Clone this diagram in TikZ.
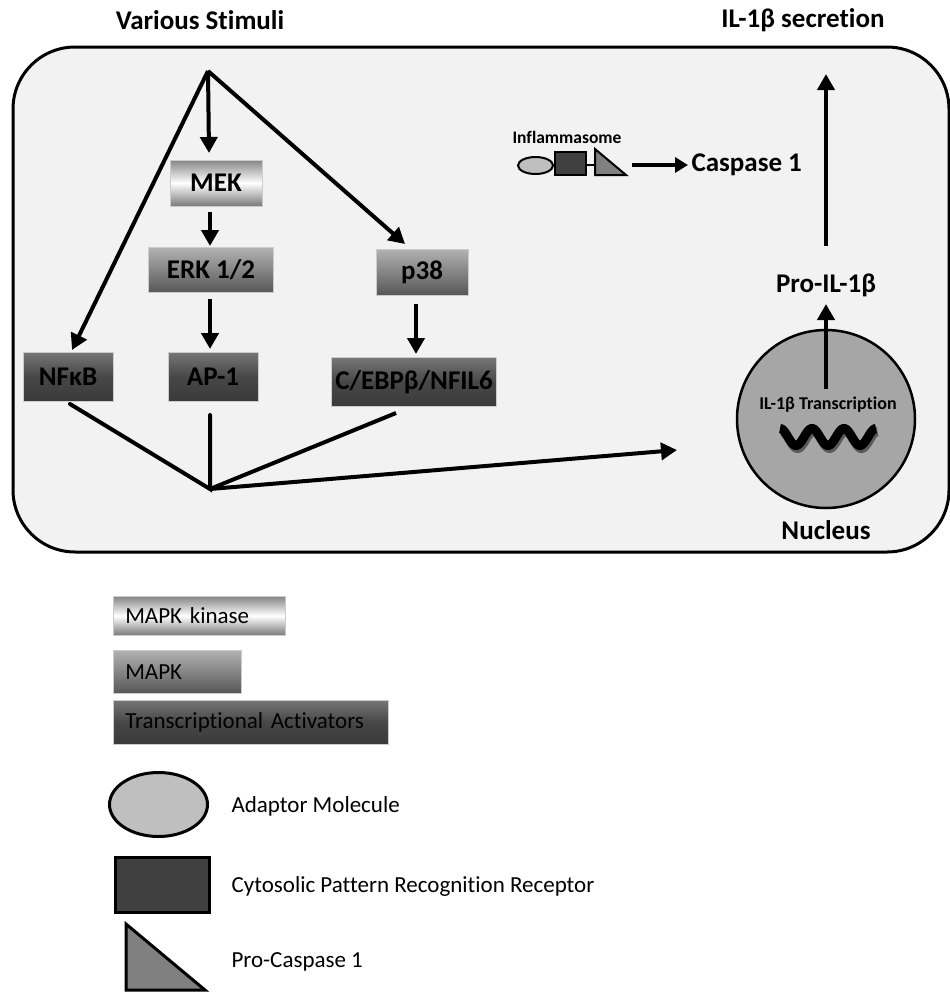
\documentclass[tikz,border=0pt]{standalone}
\usepackage{fontspec}
\setmainfont{Carlito}[Ligatures=NoCommon]
\usetikzlibrary{arrows.meta,calc}
\definecolor{cellbg}{HTML}{F2F2F2}
\definecolor{kinA}{HTML}{858585}
\definecolor{kinB}{HTML}{7A7A7A}
\definecolor{mapA}{HTML}{B2B2B2}
\definecolor{mapB}{HTML}{575757}
\definecolor{trA}{HTML}{767676}
\definecolor{trM}{HTML}{474747}
\definecolor{trB}{HTML}{3A3A3A}
\definecolor{adapt}{HTML}{BFBFBF}
\definecolor{recep}{HTML}{404040}
\definecolor{procas}{HTML}{808080}
\definecolor{nuc}{HTML}{A6A6A6}
\tikzset{
  arr/.style={line width=4pt,-{Triangle[length=16pt,width=17pt]}},
  ln/.style={line width=4pt},
  lbl/.style={font=\bfseries\fontsize{27}{30}\selectfont},
  kinase/.style={draw=gray!40,line width=0.6pt,top color=kinA,bottom color=kinB,middle color=white,lbl},
  mapk/.style={draw=gray!40,line width=0.6pt,top color=mapA,bottom color=mapB,lbl},
  tract/.style={draw=gray!40,line width=0.6pt,top color=trA,bottom color=trB,middle color=trM,lbl},
  legtxt/.style={font=\fontsize{23}{26}\selectfont},
  legbox/.style={legtxt,inner xsep=12pt,align=left,anchor=north west},
  shp/.style={draw=black,line width=3pt}
}
\begin{document}
\begin{tikzpicture}[x=1pt,y=-1pt]
\useasboundingbox (0,0) rectangle (950,994);
% cell
\draw[line width=3pt,fill=cellbg,rounded corners=62pt] (13,47) rectangle (949,552);
% titles
\node[lbl] (stim) at (200,20) {Various Stimuli};
\node[lbl] (secr) at (803,20) {IL-1β secretion};
% boxes
\node[kinase,minimum width=92pt,minimum height=46pt] (MEK) at (216,183) {MEK};
\node[mapk,minimum width=125pt,minimum height=45pt] (ERK) at (211,270) {ERK 1/2};
\node[mapk,minimum width=92pt,minimum height=46pt] (p38) at (422,272) {p38};
\node[tract,minimum width=90pt,minimum height=49pt] (NFKB) at (68,377) {NFκB};
\node[tract,minimum width=90pt,minimum height=49pt] (AP1) at (213,377) {AP-1};
\node[tract,minimum width=165pt,minimum height=49pt] (CEBP) at (414,382) {C/EBPβ/NFIL6};
% points
\coordinate (apex) at (208,71);
\coordinate (junc) at (210,489);
\coordinate (mekin) at (209,153);
\coordinate (nfin) at (72,350);
\coordinate (p38in) at (405,244);
\coordinate (mekout) at (210,212);
\coordinate (erkin) at (210,246);
\coordinate (erkout) at (210,299);
\coordinate (apin) at (210,349);
\coordinate (p38out) at (416,304);
\coordinate (cebpin) at (416,354);
\coordinate (nfout) at (70,404);
\coordinate (apout) at (210,415);
\coordinate (cebpout) at (396,413);
\coordinate (nucin) at (677,450);
% arrows
\draw[arr] (apex) -- (mekin);
\draw[arr] (apex) -- (nfin);
\draw[arr] (apex) -- (p38in);
\draw[arr] (mekout) -- (erkin);
\draw[arr] (erkout) -- (apin);
\draw[arr] (p38out) -- (cebpin);
\draw[ln,line cap=round,line join=miter] (nfout) -- (junc) -- (apout);
\draw[ln] (cebpout) -- (junc);
\draw[arr] (junc) -- (nucin);
% nucleus
\node[circle,draw=black,line width=2.5pt,fill=nuc,minimum size=178pt] (nucleus) at (826,419) {};
\node[font=\bfseries\fontsize{18}{20}\selectfont] (trans) at (828,405) {IL-1β Transcription};
\draw[line width=9pt,gray!70!black,line cap=butt] plot[domain=0:3,samples=80,smooth] ({781.5+\x*32},{440-8.5*cos(\x*360)});
\draw[line width=9pt,black,line cap=butt] plot[domain=0:3,samples=80,smooth] ({780+\x*32},{437-8.5*cos(\x*360)});
\node[lbl] (nuclbl) at (826,530) {Nucleus};
\node[lbl] (pro) at (826,285) {Pro-IL-1β};
\coordinate (nucup) at (826,389);
\coordinate (proin) at (826,304);
\coordinate (proout) at (826,246);
\coordinate (secin) at (826,74);
\draw[arr] (nucup) -- (proin);
\draw[arr] (proout) -- (secin);
% inflammasome
\node[font=\bfseries\fontsize{17.5}{20}\selectfont] (infl) at (567,137) {Inflammasome};
\draw[line width=2pt] (553,165) -- (556,165);
\draw[line width=2pt] (586,165) -- (595,165);
\draw[line width=2pt,fill=adapt] (535.5,165.5) ellipse (17.5pt and 8.5pt);
\draw[line width=2pt,fill=recep] (555,152) rectangle (586,175);
\draw[line width=2pt,fill=procas,line join=miter] (595,149) -- (595,175) -- (626,175) -- cycle;
\coordinate (infout) at (632,165);
\node[lbl,anchor=west] (casp) at (688,165) {Caspase 1};
\draw[line width=4pt,-{Triangle[length=13pt,width=15pt]}] (infout) -- (casp.west);
% legend
\node[legbox,top color=kinA,bottom color=kinB,middle color=white,draw=gray!40,line width=0.6pt,text width=148pt,minimum height=39pt] (Lkin) at (113,596) {MAPK kinase};
\node[legbox,top color=mapA,bottom color=mapB,draw=gray!40,line width=0.6pt,text width=104pt,minimum height=43pt] (Lmap) at (113,650) {MAPK};
\node[legbox,top color=trA,bottom color=trB,middle color=trM,draw=gray!40,line width=0.6pt,text width=251pt,minimum height=44pt] (Ltr) at (113,700) {Transcriptional Activators};
\draw[shp,fill=adapt] (158.5,804.5) ellipse (49pt and 32pt);
\draw[shp,fill=recep] (115,857) rectangle (209,912);
\draw[shp,fill=procas,line join=miter] (126,924) -- (126,990) -- (205,990) -- cycle;
\node[legtxt,anchor=west] (Ladapt) at (228,806) {Adaptor Molecule};
\node[legtxt,anchor=west] (Lrec) at (228,886) {Cytosolic Pattern Recognition Receptor};
\node[legtxt,anchor=west] (Lpro) at (228,962) {Pro-Caspase 1};
\end{tikzpicture}
\end{document}
